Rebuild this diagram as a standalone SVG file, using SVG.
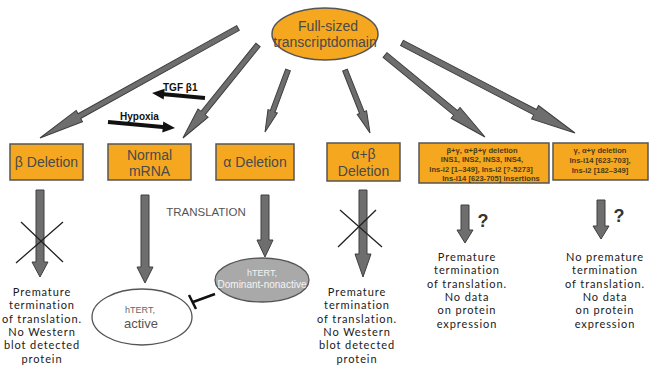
<svg xmlns="http://www.w3.org/2000/svg" width="649" height="365" viewBox="0 0 649 365">
<style>
.box{fill:#f5a81f;stroke:#555;stroke-width:1.5}
.bl{font-family:"Liberation Sans",Arial,sans-serif;font-size:14px;fill:#4a4a4a;text-anchor:middle}
.sm{font-family:"Liberation Sans",Arial,sans-serif;font-size:7.6px;font-weight:bold;fill:#4a3a1a;text-anchor:middle}
.ga{fill:#6e6e6e;stroke:#3e3e3e;stroke-width:1}
.ba{fill:#111}
.bt{font-family:"Lato","Liberation Sans",sans-serif;font-size:11px;letter-spacing:0.9px;fill:#1a1a1a;text-anchor:middle}
.lbl{font-family:"Liberation Sans",Arial,sans-serif;font-size:10px;font-weight:bold;fill:#111}
.x{stroke:#222;stroke-width:1.3;fill:none}
</style>
<rect width="649" height="365" fill="#fff"/>

<g id="connectors">
  <path class="ga" transform="translate(238,28) rotate(150.95)" d="M0,-2.7 L181.5,-2.7 L181.5,-6.5 L226.5,0 L181.5,6.5 L181.5,2.7 L0,2.7 Z"/>
  <path class="ga" transform="translate(258,45) rotate(128.9)" d="M0,-2.7 L87.5,-2.7 L87.5,-6.5 L119.5,0 L87.5,6.5 L87.5,2.7 L0,2.7 Z"/>
  <path class="ga" transform="translate(288,70) rotate(110.35)" d="M0,-2.5 L44.1,-2.5 L44.1,-5 L66.1,0 L44.1,5 L44.1,2.5 L0,2.5 Z"/>
  <path class="ga" transform="translate(345,70) rotate(68.36)" d="M0,-2.5 L45.8,-2.5 L45.8,-5 L67.8,0 L45.8,5 L45.8,2.5 L0,2.5 Z"/>
  <path class="ga" transform="translate(385,55) rotate(39.35)" d="M0,-3 L91.3,-3 L91.3,-7 L129.3,0 L91.3,7 L91.3,3 L0,3 Z"/>
  <path class="ga" transform="translate(402,43) rotate(27.48)" d="M0,-3 L150,-3 L150,-7.5 L195,0 L150,7.5 L150,3 L0,3 Z"/>

  <path class="ba" transform="translate(205,98) rotate(185.39)" d="M0,-2 L41,-2 L41,-5.5 L53.2,0 L41,5.5 L41,2 L0,2 Z"/>
  <path class="ba" transform="translate(108,122) rotate(5.12)" d="M0,-2 L55,-2 L55,-5.5 L67.3,0 L55,5.5 L55,2 L0,2 Z"/>

  <path class="ga" d="M36,190 L44,190 L44,262 L48,262 L40,277 L32,262 L36,262 Z"/>
  <path class="ga" d="M141,195 L149,195 L149,267 L153,267 L145,283 L137,267 L141,267 Z"/>
  <path class="ga" d="M261,195 L269,195 L269,240 L273,240 L265,257 L257,240 L261,240 Z"/>
  <path class="ga" d="M359,190 L367,190 L367,254 L371,254 L363,277 L355,254 L359,254 Z"/>
  <path class="ga" d="M461,205 L469,205 L469,230 L473,230 L465,243 L457,230 L461,230 Z"/>
  <path class="ga" d="M597,200 L605,200 L605,226 L609,226 L601,239 L593,226 L597,226 Z"/>

  <path class="x" d="M21,222 L63,262 M63,222 L16,263"/>
  <path class="x" d="M340,210 L382,247 M376,210 L338,247"/>

  <path d="M215,294 L193,302 M189,295 L196,309" stroke="#111" stroke-width="2.5" fill="none"/>
</g>

<text class="lbl" x="163" y="91">TGF β1</text>
<text class="lbl" x="120" y="120">Hypoxia</text>
<text x="206" y="216" font-family="'Liberation Sans',Arial,sans-serif" font-size="11.5" fill="#555" text-anchor="middle">TRANSLATION</text>
<text x="483" y="227" font-family="'Liberation Sans',Arial,sans-serif" font-size="18" font-weight="bold" fill="#333" text-anchor="middle">?</text>
<text x="619" y="222" font-family="'Liberation Sans',Arial,sans-serif" font-size="18" font-weight="bold" fill="#333" text-anchor="middle">?</text>

<g id="full">
  <ellipse cx="325" cy="34" rx="53" ry="26" fill="#f5a81f" stroke="#555" stroke-width="1.5"/>
  <text class="bl" x="328" y="31" font-size="15">Full-sized</text>
  <text class="bl" x="325" y="47">transcriptdomain</text>
</g>

<g id="beta">
  <rect class="box" x="10" y="144" width="73" height="36"/>
  <text class="bl" x="46.5" y="167">β Deletion</text>
</g>
<g id="normal">
  <rect class="box" x="108" y="144" width="83" height="36"/>
  <text class="bl" x="149.5" y="160">Normal</text>
  <text class="bl" x="149.5" y="176">mRNA</text>
</g>
<g id="alpha">
  <rect class="box" x="216" y="144" width="78" height="36"/>
  <text class="bl" x="255" y="167">α Deletion</text>
</g>
<g id="alphabeta">
  <rect class="box" x="327" y="143" width="73" height="38"/>
  <text class="bl" x="363.5" y="159">α+β</text>
  <text class="bl" x="363.5" y="176">Deletion</text>
</g>
<g id="ins">
  <rect class="box" x="419" y="143" width="130" height="40"/>
  <text class="sm" x="482" y="153">β+γ, α+β+γ deletion</text>
  <text class="sm" x="482" y="162">INS1, INS2, INS3, INS4,</text>
  <text class="sm" x="481" y="172">Ins-i2 [1–349], Ins-i2 [?-5273]</text>
  <text class="sm" x="491" y="181">Ins-i14 [623-705] insertions</text>
</g>
<g id="gamma">
  <rect class="box" x="553" y="143" width="95" height="37"/>
  <text class="sm" x="600" y="153">γ, α+γ deletion</text>
  <text class="sm" x="600" y="163">Ins-i14 [623-703],</text>
  <text class="sm" x="600" y="173">Ins-i2 [182–349]</text>
</g>

<g id="active">
  <ellipse cx="142" cy="317" rx="50" ry="28" fill="#fff" stroke="#555" stroke-width="1.3"/>
  <text x="140" y="313" font-family="'Liberation Sans',Arial,sans-serif" font-size="9" fill="#666" text-anchor="middle">hTERT,</text>
  <text x="141" y="328" font-family="'Liberation Sans',Arial,sans-serif" font-size="13" fill="#555" text-anchor="middle">active</text>
</g>
<g id="dominant">
  <ellipse cx="262" cy="280" rx="47" ry="22" fill="#a9a9a9" stroke="#555" stroke-width="1.3"/>
  <text x="262" y="276" font-family="'Liberation Sans',Arial,sans-serif" font-size="9" fill="#f4f4f4" text-anchor="middle">hTERT,</text>
  <text x="262" y="288" font-family="'Liberation Sans',Arial,sans-serif" font-size="10" fill="#f4f4f4" text-anchor="middle">Dominant-nonactive</text>
</g>

<g id="text-beta">
  <text class="bt" x="42" y="296">Premature</text>
  <text class="bt" x="42" y="309.3">termination</text>
  <text class="bt" x="42" y="322.6">of translation.</text>
  <text class="bt" x="42" y="335.9">No Western</text>
  <text class="bt" x="42" y="349.2">blot detected</text>
  <text class="bt" x="42" y="362.5">protein</text>
</g>
<g id="text-ab">
  <text class="bt" x="357" y="296">Premature</text>
  <text class="bt" x="357" y="309.3">termination</text>
  <text class="bt" x="357" y="322.6">of translation.</text>
  <text class="bt" x="357" y="335.9">No Western</text>
  <text class="bt" x="357" y="349.2">blot detected</text>
  <text class="bt" x="357" y="362.5">protein</text>
</g>
<g id="text-ins">
  <text class="bt" x="467" y="261">Premature</text>
  <text class="bt" x="467" y="274.3">termination</text>
  <text class="bt" x="467" y="287.6">of translation.</text>
  <text class="bt" x="467" y="300.9">No data</text>
  <text class="bt" x="467" y="314.2">on protein</text>
  <text class="bt" x="467" y="327.5">expression</text>
</g>
<g id="text-gamma">
  <text class="bt" x="605" y="261">No premature</text>
  <text class="bt" x="605" y="274.3">termination</text>
  <text class="bt" x="605" y="287.6">of translation.</text>
  <text class="bt" x="605" y="300.9">No data</text>
  <text class="bt" x="605" y="314.2">on protein</text>
  <text class="bt" x="605" y="327.5">expression</text>
</g>
</svg>
